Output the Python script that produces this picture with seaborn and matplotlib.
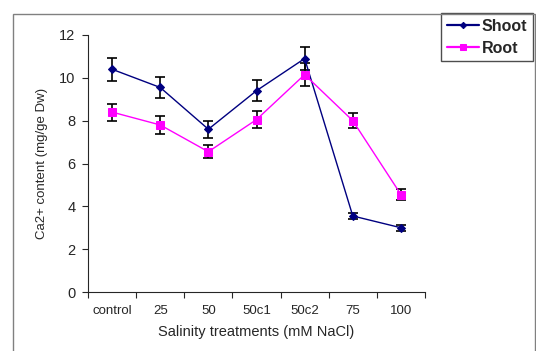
import numpy as np
import pandas as pd
import matplotlib.pyplot as plt
import seaborn as sns
from matplotlib.patches import Rectangle

# values
treatments = ['control', '25', '50', '50c1', '50c2', '75', '100']
shoot = [10.4, 9.55, 7.6, 9.4, 10.9, 3.55, 3.0]
shoot_err = [0.53, 0.5, 0.4, 0.5, 0.55, 0.15, 0.15]
root = [8.4, 7.8, 6.55, 8.05, 10.15, 8.0, 4.55]
root_err = [0.4, 0.4, 0.3, 0.4, 0.55, 0.35, 0.25]

sns.set_style('ticks')
plt.rcParams['font.family'] = ['Liberation Sans', 'DejaVu Sans']

pos = np.arange(len(treatments))
df = pd.DataFrame({
    'pos': np.concatenate([pos, pos]),
    'value': shoot + root,
    'err': shoot_err + root_err,
    'part': ['Shoot'] * len(pos) + ['Root'] * len(pos),
})

fig = plt.figure(figsize=(5.36, 3.51), dpi=100)
ax = fig.add_axes([88 / 536, 1 - 292 / 351, (425 - 88) / 536, (292 - 35) / 351])

# outer frame around the whole chart
fig.patches.append(Rectangle((13 / 536, -0.1), (535 - 13) / 536, 1.1 - 14 / 351,
                             transform=fig.transFigure, fill=False,
                             edgecolor='#808080', linewidth=1.0))

colors = {'Shoot': '#000080', 'Root': '#FF00FF'}
markers = {'Shoot': 'D', 'Root': 's'}
sizes = {'Shoot': 4, 'Root': 6}

for part in ['Shoot', 'Root']:
    sub = df[df['part'] == part]
    ax.errorbar(sub['pos'], sub['value'], yerr=sub['err'], fmt='none',
                ecolor='black', elinewidth=1.2, capsize=3.5, capthick=1.2, zorder=3)
    sns.lineplot(data=sub, x='pos', y='value', ax=ax, color=colors[part],
                 marker=markers[part], markersize=sizes[part],
                 markeredgecolor=colors[part], linewidth=1.0, label=part, zorder=4)

ax.set_xlim(-0.5, len(treatments) - 0.5)
ax.set_ylim(0, 12)
ax.set_yticks([0, 2, 4, 6, 8, 10, 12])
ax.tick_params(axis='y', labelsize=10.5, direction='out', length=4, width=0.8, pad=5)
ax.set_xticks(np.arange(-0.5, len(treatments), 1.0))
ax.set_xticklabels([])
ax.tick_params(axis='x', which='major', direction='out', length=4, width=0.8)
ax.set_xticks(pos, minor=True)
ax.set_xticklabels(treatments, minor=True)
ax.tick_params(axis='x', which='minor', length=0, labelsize=9.5, pad=9)

for s in ['top', 'right']:
    ax.spines[s].set_visible(False)
for s in ['left', 'bottom']:
    ax.spines[s].set_linewidth(0.8)

ax.set_xlabel('Salinity treatments (mM NaCl)', fontsize=10.5, labelpad=6)
ax.set_ylabel('Ca2+ content (mg/ge Dw)', fontsize=9.5, labelpad=8)

leg = ax.legend(loc='upper left', bbox_to_anchor=(441 / 536, 1 - 13 / 351),
                bbox_transform=fig.transFigure, frameon=True, fancybox=False,
                prop={'weight': 'bold', 'size': 11.5}, handlelength=2.0,
                borderpad=0.35, labelspacing=0.45, handletextpad=0.2,
                borderaxespad=0, markerscale=0.8)
leg.get_frame().set_edgecolor('#202020')
leg.get_frame().set_linewidth(1.0)
for line in leg.get_lines():
    line.set_linewidth(1.6)

fig.savefig('out.png', dpi=100)
